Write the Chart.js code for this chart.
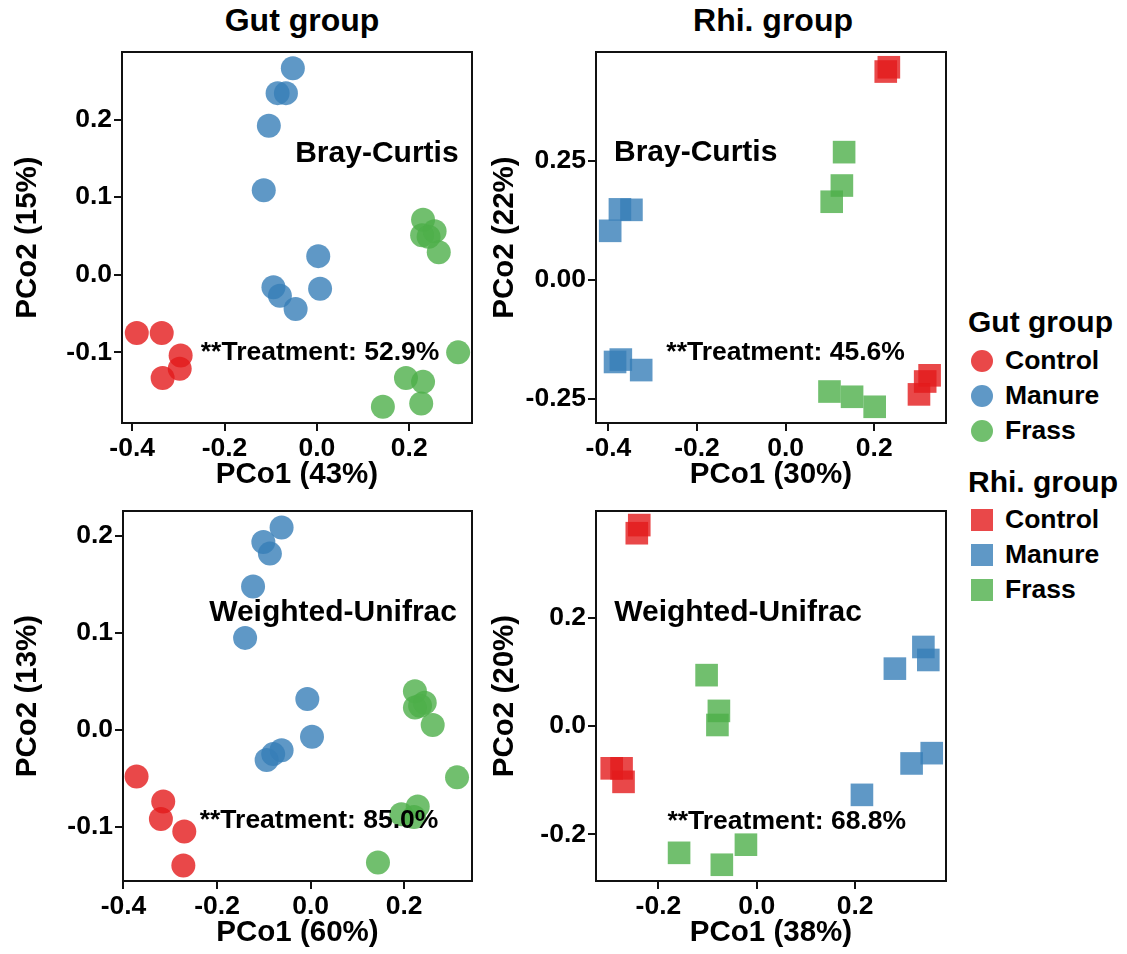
<!DOCTYPE html>
<html>
<head>
<meta charset="utf-8">
<script src="https://cdn.jsdelivr.net/npm/chart.js@4.4.1/dist/chart.umd.min.js"></script>
<style>
  body { margin: 0; background: #fff; width: 1127px; height: 954px; position: relative; overflow: hidden;
         font-family: "Liberation Sans", Arial, sans-serif; font-weight: bold; color: #000; }
  canvas { position: absolute; }
  .txt { position: absolute; white-space: nowrap; }
  .mk { position: absolute; width: 22px; height: 22px; }
</style>
</head>
<body>
<div class="txt" style="left:152px;top:1px;width:300px;text-align:center;font-size:32px;line-height:38px">Gut group</div>
<div class="txt" style="left:623px;top:1px;width:300px;text-align:center;font-size:32px;line-height:38px">Rhi. group</div>
<div id="legend"></div>

<script>
// ---- data (PCoA scores) ----
const groups = ["Control", "Manure", "Frass"];

// Gut group, Bray-Curtis
const gutBrayControl = [[-0.390,-0.075],[-0.336,-0.075],[-0.295,-0.104],[-0.334,-0.133],[-0.297,-0.121]];
const gutBrayManure  = [[-0.052,0.266],[-0.085,0.234],[-0.067,0.234],[-0.104,0.192],[-0.115,0.109],
                        [0.003,0.024],[0.007,-0.018],[-0.094,-0.016],[-0.080,-0.027],[-0.046,-0.044]];
const gutBrayFrass   = [[0.230,0.071],[0.255,0.056],[0.228,0.051],[0.242,0.049],[0.264,0.029],
                        [0.306,-0.100],[0.193,-0.133],[0.230,-0.138],[0.226,-0.166],[0.143,-0.170]];

// Rhi. group, Bray-Curtis
const rhiBrayControl = [[0.233,0.446],[0.226,0.437],[0.325,-0.200],[0.315,-0.213],[0.301,-0.240]];
const rhiBrayManure  = [[-0.374,0.148],[-0.348,0.147],[-0.396,0.103],[-0.385,-0.172],[-0.372,-0.167],[-0.326,-0.189]];
const rhiBrayFrass   = [[0.132,0.268],[0.127,0.198],[0.104,0.164],[0.099,-0.234],[0.150,-0.245],[0.201,-0.266]];

// Gut group, Weighted-Unifrac
const gutWuControl = [[-0.372,-0.048],[-0.315,-0.074],[-0.320,-0.092],[-0.270,-0.105],[-0.272,-0.140]];
const gutWuManure  = [[-0.062,0.209],[-0.101,0.194],[-0.087,0.182],[-0.123,0.148],[-0.140,0.095],
                      [-0.007,0.032],[0.003,-0.007],[-0.062,-0.021],[-0.080,-0.025],[-0.094,-0.031]];
const gutWuFrass   = [[0.223,0.040],[0.244,0.028],[0.223,0.023],[0.234,0.025],[0.261,0.005],
                      [0.313,-0.049],[0.194,-0.087],[0.229,-0.079],[0.221,-0.090],[0.144,-0.137]];

// Rhi. group, Weighted-Unifrac
const rhiWuControl = [[-0.239,0.371],[-0.244,0.356],[-0.295,-0.078],[-0.275,-0.078],[-0.271,-0.103]];
const rhiWuManure  = [[0.339,0.146],[0.349,0.122],[0.281,0.106],[0.356,-0.050],[0.315,-0.069],[0.214,-0.127]];
const rhiWuFrass   = [[-0.102,0.094],[-0.077,0.028],[-0.080,0.002],[-0.158,-0.234],[-0.071,-0.256],[-0.022,-0.219]];

// tick labels
const xTicksWide = [-0.4, -0.2, 0, 0.2];
const xTicksRhiWu = [-0.2, 0, 0.2];
const yTicksGut = [-0.1, 0, 0.1, 0.2];
const yTicksRhiBray = [-0.25, 0, 0.25];
const yTicksRhiWu = [-0.2, 0, 0.2];

// ---- styling ----
const colors = { Control: "rgba(228,26,28,0.8)", Manure: "rgba(55,126,184,0.8)", Frass: "rgba(77,175,74,0.8)" };
const FONT = '"Liberation Sans", Arial, sans-serif';
const ink = "#111";
const PAD = 24;   // room above / right of the plot box, so chart.js never shrinks it

// box = plot area [left, top, right, bottom] in page px, yLeft = where the canvas starts
const panels = [
  { area: [122, 52, 472, 423], yLeft: 9, bottom: 494,
    xr: [-0.422, 0.336], yr: [-0.191, 0.287], xt: xTicksWide, yt: yTicksGut, yDec: 1,
    xTitle: "PCo1 (43%)", yTitle: "PCo2 (15%)", shape: "circle",
    sets: [gutBrayControl, gutBrayManure, gutBrayFrass],
    notes: [{ text: "Bray-Curtis", at: [0.130, 0.156], size: 30 },
            { text: "**Treatment: 52.9%", at: [0.007, -0.101], size: 26.5 }] },
  { area: [596, 52, 946, 423], yLeft: 486, bottom: 494,
    xr: [-0.428, 0.362], yr: [-0.300, 0.478], xt: xTicksWide, yt: yTicksRhiBray, yDec: 2,
    xTitle: "PCo1 (30%)", yTitle: "PCo2 (22%)", shape: "rect",
    sets: [rhiBrayControl, rhiBrayManure, rhiBrayFrass],
    notes: [{ text: "Bray-Curtis", at: [-0.203, 0.266], size: 30 },
            { text: "**Treatment: 45.6%", at: [0.000, -0.153], size: 26.5 }] },
  { area: [123, 511, 472, 881], yLeft: 9, bottom: 952,
    xr: [-0.401, 0.345], yr: [-0.156, 0.226], xt: xTicksWide, yt: yTicksGut, yDec: 1,
    xTitle: "PCo1 (60%)", yTitle: "PCo2 (13%)", shape: "circle",
    sets: [gutWuControl, gutWuManure, gutWuFrass],
    notes: [{ text: "Weighted-Unifrac", at: [0.048, 0.121], size: 30 },
            { text: "**Treatment: 85.0%", at: [0.018, -0.094], size: 26.5 }] },
  { area: [596, 511, 946, 881], yLeft: 486, bottom: 952,
    xr: [-0.327, 0.385], yr: [-0.286, 0.397], xt: xTicksRhiWu, yt: yTicksRhiWu, yDec: 1,
    xTitle: "PCo1 (38%)", yTitle: "PCo2 (20%)", shape: "rect",
    sets: [rhiWuControl, rhiWuManure, rhiWuFrass],
    notes: [{ text: "Weighted-Unifrac", at: [-0.038, 0.210], size: 30 },
            { text: "**Treatment: 68.8%", at: [0.061, -0.177], size: 26.5 }] }
];

// text inside the panel + the black frame
const framePlugin = {
  id: "frame",
  afterDatasetsDraw(chart, args, opts) {
    const { ctx, chartArea: a, scales } = chart;
    ctx.save();
    ctx.fillStyle = "#000";
    ctx.textAlign = "center";
    ctx.textBaseline = "middle";
    opts.notes.forEach(n => {
      ctx.font = `bold ${n.size}px ${FONT}`;
      ctx.fillText(n.text, scales.x.getPixelForValue(n.at[0]), scales.y.getPixelForValue(n.at[1]));
    });
    ctx.lineWidth = 2;
    ctx.strokeStyle = ink;
    ctx.strokeRect(a.left, a.top, a.width, a.height);
    ctx.restore();
  }
};

function axis(range, ticks, dec, title, fixSize) {
  return {
    type: "linear",
    min: range[0], max: range[1],
    afterBuildTicks: s => { s.ticks = ticks.map(v => ({ value: v })); },
    afterFit: fixSize,
    grid: { display: true, drawOnChartArea: false, drawTicks: true, tickLength: 8, color: ink, lineWidth: 2 },
    border: { display: false },
    ticks: { autoSkip: false, maxRotation: 0, minRotation: 0, padding: 2, color: "#000",
             font: { family: FONT, size: 26.5, weight: "bold" },
             callback: v => Number(v).toFixed(dec) },
    title: { display: true, text: title, color: "#000", padding: { top: 1, bottom: 1 },
             font: { family: FONT, size: 29.5, weight: "bold" } }
  };
}

panels.forEach(p => {
  const [l, t, r, b] = p.area;
  const cv = document.createElement("canvas");
  const left = p.yLeft, top = t - PAD;
  cv.width = r + PAD - left; cv.height = p.bottom - top;
  cv.style.left = left + "px"; cv.style.top = top + "px";
  document.body.appendChild(cv);

  new Chart(cv, {
    type: "scatter",
    data: {
      datasets: groups.map((g, i) => ({
        label: g,
        data: p.sets[i].map(d => ({ x: d[0], y: d[1] })),
        backgroundColor: colors[g],
        borderWidth: 0,
        pointStyle: p.shape,
        pointRadius: p.shape === "rect" ? 16 : 12,
        clip: false
      }))
    },
    options: {
      responsive: false,
      animation: false,
      devicePixelRatio: 1,
      events: [],
      layout: { padding: { top: PAD, right: PAD, left: 0, bottom: 0 } },
      plugins: { legend: { display: false }, tooltip: { enabled: false }, frame: { notes: p.notes } },
      scales: {
        x: axis(p.xr, p.xt, 1, p.xTitle, s => { s.height = p.bottom - b; }),
        y: axis(p.yr, p.yt, p.yDec, p.yTitle, s => { s.width = l - left; })
      }
    },
    plugins: [framePlugin]
  });
});

// legend on the right
const legend = document.getElementById("legend");
function addText(text, left, cy, size) {
  const d = document.createElement("div");
  d.className = "txt";
  d.textContent = text;
  d.style.cssText += `left:${left}px;top:${cy - size * 0.6}px;font-size:${size}px;line-height:${size * 1.2}px`;
  legend.appendChild(d);
}
function addBlock(title, titleY, firstY, round) {
  addText(title, 968, titleY, 30);
  groups.forEach((g, i) => {
    const cy = firstY + i * 35;
    const m = document.createElement("div");
    m.className = "mk";
    m.style.cssText += `left:971px;top:${cy - 11}px;background:${colors[g]};border-radius:${round ? "50%" : "0"}`;
    legend.appendChild(m);
    addText(g, 1005, cy, 26.5);
  });
}
addBlock("Gut group", 322, 361, true);
addBlock("Rhi. group", 482, 520, false);
</script>
</body>
</html>
